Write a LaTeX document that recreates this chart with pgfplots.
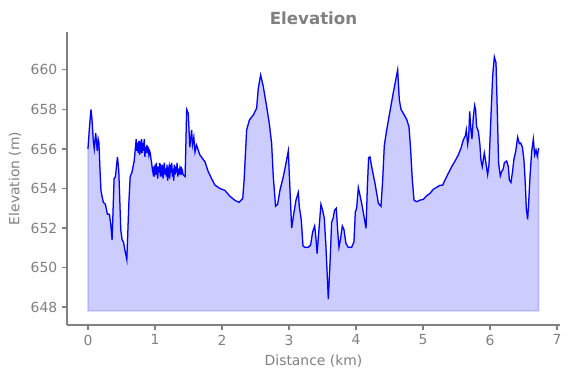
\documentclass[border=0pt]{standalone}
\usepackage{pgfplots}
\pgfplotsset{compat=1.18}
\usepgfplotslibrary{fillbetween}
\usepackage{fontspec}
\setmainfont{DejaVu Sans}
\definecolor{txtgray}{HTML}{808080}
\begin{document}
\begin{tikzpicture}
\begin{axis}[name=ax,
  scale only axis, width=355pt, height=211pt,
  xmin=-0.313, xmax=7.045, ymin=647.09, ymax=661.92,
  axis lines*=left, axis line style={txtgray, line width=0.8pt, -},
  tick style={txtgray, line width=0.8pt}, tick align=outside,
  major tick length=3.5pt,
  xtick={0,1,...,7}, ytick={648,650,...,660},
  ticklabel style={font=\fontsize{10}{12}\selectfont, text=txtgray},
  /pgf/number format/assume math mode=true,
  /pgf/number format/.cd, set thousands separator={}, /pgfplots/.cd,
  title={\bfseries Elevation}, title style={font=\fontsize{12}{14}\selectfont, text=txtgray, yshift=-4.5pt},
  xlabel={Distance (km)}, ylabel={Elevation (m)},
  label style={font=\fontsize{10}{12}\selectfont, text=txtgray},
  clip=false,
]
\addplot[name path=A, blue, line width=0.9pt] table {
x y
0.000 656.0
0.020 657.0
0.045 658.0
0.060 657.5
0.080 656.4
0.094 656.0
0.115 656.8
0.139 655.9
0.152 656.5
0.164 656.3
0.180 654.9
0.194 653.9
0.210 653.6
0.230 653.3
0.260 653.2
0.290 652.7
0.320 652.7
0.340 652.2
0.360 651.4
0.390 654.5
0.410 654.6
0.440 655.6
0.460 654.9
0.490 651.9
0.510 651.4
0.530 651.3
0.550 650.9
0.580 650.4
0.610 653.25
0.630 654.6
0.655 654.8
0.690 655.4
0.720 656.5
0.730 655.9
0.740 656.3
0.750 655.8
0.760 656.4
0.770 655.7
0.780 656.2
0.790 656.0
0.800 656.5
0.810 655.8
0.820 656.3
0.830 655.9
0.840 656.5
0.850 655.6
0.860 656.1
0.870 655.8
0.880 656.2
0.890 655.9
0.900 656.0
0.910 655.7
0.920 655.9
0.930 655.8
0.940 655.5
0.950 655.3
0.960 655.0
0.970 654.8
0.980 655.1
0.990 654.6
1.000 655.2
1.010 654.7
1.020 655.3
1.030 654.9
1.040 654.5
1.050 655.1
1.060 654.8
1.070 655.3
1.080 654.6
1.090 655.0
1.100 654.8
1.110 655.2
1.120 654.5
1.130 654.9
1.140 655.3
1.150 654.7
1.160 655.0
1.170 654.6
1.180 655.2
1.190 654.4
1.200 654.9
1.210 655.1
1.220 654.5
1.230 655.2
1.240 654.8
1.250 655.3
1.260 654.6
1.270 655.0
1.280 654.4
1.290 655.2
1.300 654.7
1.310 655.1
1.320 654.8
1.330 655.3
1.340 654.6
1.350 654.9
1.360 654.8
1.370 655.0
1.380 654.7
1.390 655.1
1.400 654.8
1.410 654.9
1.420 654.7
1.450 654.6
1.473 658.0
1.497 657.8
1.520 656.1
1.547 656.95
1.560 656.2
1.580 656.6
1.597 655.85
1.620 656.2
1.670 655.7
1.746 655.35
1.795 654.85
1.845 654.5
1.895 654.17
1.970 654.0
2.045 653.9
2.120 653.6
2.194 653.4
2.254 653.3
2.310 653.5
2.330 654.4
2.368 656.96
2.410 657.47
2.468 657.72
2.517 658.06
2.542 659.07
2.577 659.74
2.617 659.15
2.667 658.14
2.706 657.3
2.741 656.28
2.766 654.59
2.800 653.1
2.830 653.2
2.866 653.92
2.915 654.59
2.955 655.27
2.990 655.9
3.015 653.92
3.040 652.0
3.075 652.8
3.104 653.4
3.139 653.8
3.154 653.08
3.184 652.4
3.209 651.09
3.239 651.02
3.288 651.02
3.323 651.14
3.353 651.8
3.383 652.1
3.403 651.47
3.420 650.71
3.447 651.9
3.477 653.2
3.502 652.9
3.527 652.5
3.552 651.05
3.587 648.4
3.612 650.2
3.637 652.3
3.660 652.5
3.680 652.9
3.706 653.0
3.726 651.9
3.746 651.02
3.771 651.47
3.796 652.1
3.820 651.93
3.850 651.22
3.885 651.02
3.935 651.02
3.970 651.3
3.990 652.8
4.010 653.0
4.035 654.05
4.085 653.25
4.120 652.58
4.150 651.98
4.170 654.1
4.189 655.56
4.209 655.6
4.234 655.1
4.284 654.26
4.334 653.25
4.373 653.1
4.398 654.4
4.423 656.18
4.458 656.96
4.507 657.9
4.557 658.85
4.622 660.0
4.647 658.48
4.672 658.0
4.707 657.8
4.756 657.5
4.791 657.13
4.816 655.95
4.841 654.43
4.866 653.41
4.905 653.33
4.955 653.41
5.005 653.45
5.055 653.63
5.104 653.75
5.154 653.96
5.204 654.06
5.254 654.16
5.294 654.17
5.328 654.43
5.378 654.77
5.428 655.1
5.478 655.39
5.527 655.7
5.567 656.04
5.602 656.46
5.632 656.66
5.647 656.96
5.667 656.24
5.682 656.6
5.697 657.9
5.716 656.96
5.731 656.5
5.751 657.6
5.771 658.2
5.786 657.97
5.800 657.13
5.826 656.9
5.850 656.2
5.865 655.44
5.885 655.1
5.915 655.8
5.940 655.27
5.965 654.7
5.985 655.2
6.010 657.3
6.040 659.7
6.065 660.66
6.090 660.36
6.110 657.8
6.129 655.27
6.154 654.63
6.174 654.85
6.199 655.0
6.214 655.3
6.249 655.39
6.274 655.1
6.289 654.43
6.313 654.3
6.338 654.9
6.358 655.5
6.383 655.86
6.413 656.6
6.438 656.27
6.458 656.3
6.483 656.1
6.507 655.44
6.527 654.26
6.542 653.0
6.562 652.44
6.577 653.25
6.597 654.6
6.622 655.86
6.647 656.5
6.667 655.7
6.687 655.95
6.706 655.64
6.726 656.04
};
\addplot[draw=none, name path=B] coordinates {(0,647.8) (6.726,647.8)};
\addplot[fill=blue, fill opacity=0.2, draw=blue, draw opacity=0.2, line width=1pt] fill between[of=A and B];
\end{axis}
\pgfresetboundingbox
\path[use as bounding box] ([shift={(-48.24pt,-38.16pt)}]ax.south west) rectangle ([shift={(8.64pt,23.04pt)}]ax.north east);
\end{tikzpicture}
\end{document}
